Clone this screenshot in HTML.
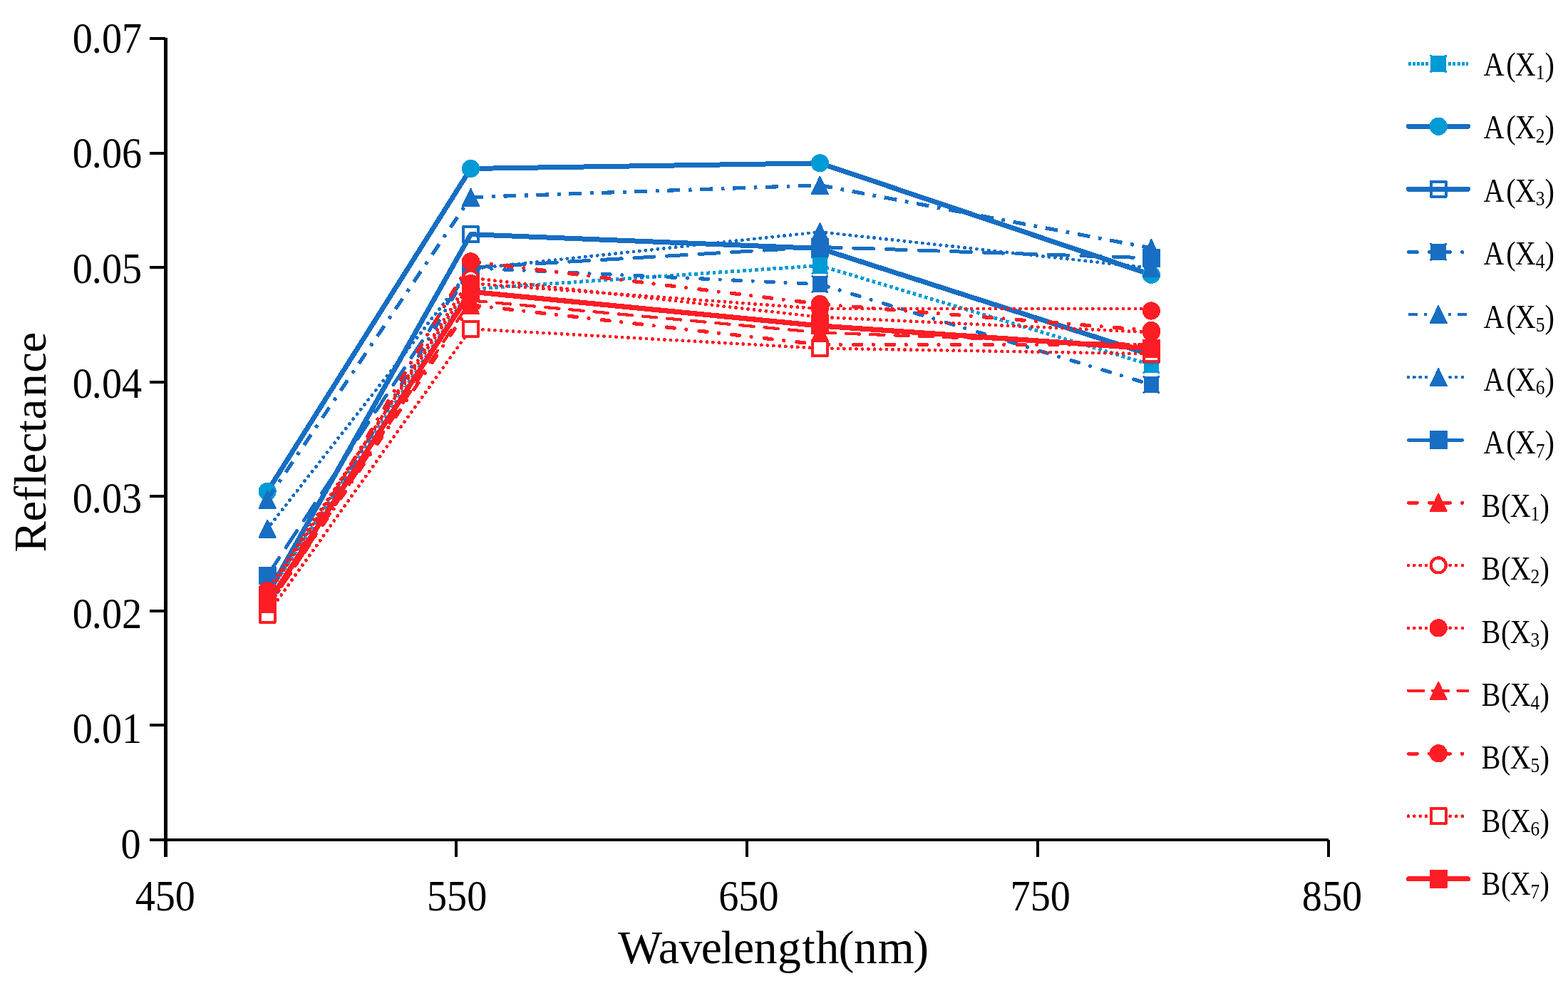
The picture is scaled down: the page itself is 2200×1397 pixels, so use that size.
<!DOCTYPE html>
<html lang="en">
<head>
<meta charset="utf-8">
<title>Reflectance versus wavelength</title>
<style>
html, body { margin: 0; padding: 0; background: #ffffff; }
body { width: 2200px; height: 1397px; overflow: hidden; }
svg { display: block; }
svg text { font-family: "Liberation Serif", "DejaVu Serif", serif; fill: #000; }
</style>
</head>
<body>
<svg width="2200" height="1397" viewBox="0 0 2200 1397">
<rect width="2200" height="1397" fill="#ffffff"/>
<g id="series" shape-rendering="crispEdges">
<g fill="none" stroke="#009AD4" stroke-width="5" stroke-linecap="butt" stroke-dasharray="4.6 3.9">
<line x1="375.1" y1="834" x2="660.5" y2="405.5"/>
<line x1="660.5" y1="405.5" x2="1150.4" y2="372.5"/>
<line x1="1150.4" y1="372.5" x2="1615.3" y2="511.8"/>
</g>
<rect x="364.3" y="822.6" width="21.6" height="22.8" fill="#009AD4"/><circle cx="364.8" cy="823.1" r="1.7" fill="#009AD4"/><circle cx="385.4" cy="823.1" r="1.7" fill="#009AD4"/><circle cx="385.4" cy="844.9" r="1.7" fill="#009AD4"/><circle cx="364.8" cy="844.9" r="1.7" fill="#009AD4"/>
<rect x="649.7" y="394.1" width="21.6" height="22.8" fill="#009AD4"/><circle cx="650.2" cy="394.6" r="1.7" fill="#009AD4"/><circle cx="670.8" cy="394.6" r="1.7" fill="#009AD4"/><circle cx="670.8" cy="416.4" r="1.7" fill="#009AD4"/><circle cx="650.2" cy="416.4" r="1.7" fill="#009AD4"/>
<rect x="1139.6" y="361.1" width="21.6" height="22.8" fill="#009AD4"/><circle cx="1140.1" cy="361.6" r="1.7" fill="#009AD4"/><circle cx="1160.7" cy="361.6" r="1.7" fill="#009AD4"/><circle cx="1160.7" cy="383.4" r="1.7" fill="#009AD4"/><circle cx="1140.1" cy="383.4" r="1.7" fill="#009AD4"/>
<rect x="1604.5" y="500.4" width="21.6" height="22.8" fill="#009AD4"/><circle cx="1605" cy="500.9" r="1.7" fill="#009AD4"/><circle cx="1625.6" cy="500.9" r="1.7" fill="#009AD4"/><circle cx="1625.6" cy="522.7" r="1.7" fill="#009AD4"/><circle cx="1605" cy="522.7" r="1.7" fill="#009AD4"/>
<polyline points="375.1,689.4 660.5,236.5 1150.4,228.8 1615.3,385.3" fill="none" stroke="#176EC3" stroke-width="7" stroke-linecap="round" stroke-linejoin="round"/>
<circle cx="375.1" cy="689.4" r="12.6" fill="#009AD4"/>
<circle cx="660.5" cy="236.5" r="12.6" fill="#009AD4"/>
<circle cx="1150.4" cy="228.8" r="12.6" fill="#009AD4"/>
<circle cx="1615.3" cy="385.3" r="12.6" fill="#009AD4"/>
<polyline points="375.1,834 660.5,328.7 1150.4,348.5 1615.3,497.8" fill="none" stroke="#176EC3" stroke-width="7" stroke-linecap="round" stroke-linejoin="round"/>
<rect x="364.65" y="823.35" width="20.9" height="21.3" fill="none" stroke="#176EC3" stroke-width="4" stroke-linejoin="round"/>
<rect x="650.05" y="318.05" width="20.9" height="21.3" fill="none" stroke="#176EC3" stroke-width="4" stroke-linejoin="round"/>
<rect x="1139.95" y="337.85" width="20.9" height="21.3" fill="none" stroke="#176EC3" stroke-width="4" stroke-linejoin="round"/>
<rect x="1604.85" y="487.15" width="20.9" height="21.3" fill="none" stroke="#176EC3" stroke-width="4" stroke-linejoin="round"/>
<g fill="none" stroke="#176EC3" stroke-width="5.2" stroke-linecap="round" stroke-dasharray="11 16.6 0.01 18.29" stroke-dashoffset="-1.3">
<line x1="375.1" y1="855" x2="660.5" y2="375.8"/>
<line x1="660.5" y1="375.8" x2="1150.4" y2="398.7"/>
<line x1="1150.4" y1="398.7" x2="1615.3" y2="539.5"/>
</g>
<rect x="364.3" y="843.6" width="21.6" height="22.8" fill="#176EC3"/><circle cx="364.8" cy="844.1" r="1.7" fill="#176EC3"/><circle cx="385.4" cy="844.1" r="1.7" fill="#176EC3"/><circle cx="385.4" cy="865.9" r="1.7" fill="#176EC3"/><circle cx="364.8" cy="865.9" r="1.7" fill="#176EC3"/>
<rect x="649.7" y="364.4" width="21.6" height="22.8" fill="#176EC3"/><circle cx="650.2" cy="364.9" r="1.7" fill="#176EC3"/><circle cx="670.8" cy="364.9" r="1.7" fill="#176EC3"/><circle cx="670.8" cy="386.7" r="1.7" fill="#176EC3"/><circle cx="650.2" cy="386.7" r="1.7" fill="#176EC3"/>
<rect x="1139.6" y="387.3" width="21.6" height="22.8" fill="#176EC3"/><circle cx="1140.1" cy="387.8" r="1.7" fill="#176EC3"/><circle cx="1160.7" cy="387.8" r="1.7" fill="#176EC3"/><circle cx="1160.7" cy="409.6" r="1.7" fill="#176EC3"/><circle cx="1140.1" cy="409.6" r="1.7" fill="#176EC3"/>
<rect x="1604.5" y="528.1" width="21.6" height="22.8" fill="#176EC3"/><circle cx="1605" cy="528.6" r="1.7" fill="#176EC3"/><circle cx="1625.6" cy="528.6" r="1.7" fill="#176EC3"/><circle cx="1625.6" cy="550.4" r="1.7" fill="#176EC3"/><circle cx="1605" cy="550.4" r="1.7" fill="#176EC3"/>
<g fill="none" stroke="#176EC3" stroke-width="5.2" stroke-linecap="butt" stroke-dasharray="17.7 11.8 4.7 11.8">
<line x1="375.1" y1="700.7" x2="660.5" y2="276.7"/>
<line x1="660.5" y1="276.7" x2="1150.4" y2="259.8"/>
<line x1="1150.4" y1="259.8" x2="1615.3" y2="348"/>
</g>
<polygon points="375.1,688.7 386.6,712.7 363.6,712.7" fill="#176EC3" stroke="#176EC3" stroke-width="2" stroke-linejoin="round"/>
<polygon points="660.5,264.7 672,288.7 649,288.7" fill="#176EC3" stroke="#176EC3" stroke-width="2" stroke-linejoin="round"/>
<polygon points="1150.4,247.8 1161.9,271.8 1138.9,271.8" fill="#176EC3" stroke="#176EC3" stroke-width="2" stroke-linejoin="round"/>
<polygon points="1615.3,336 1626.8,360 1603.8,360" fill="#176EC3" stroke="#176EC3" stroke-width="2" stroke-linejoin="round"/>
<g fill="none" stroke="#176EC3" stroke-width="4.9" stroke-linecap="round" stroke-dasharray="0.01 8.5">
<line x1="375.1" y1="741.7" x2="660.5" y2="377.2"/>
<line x1="660.5" y1="377.2" x2="1150.4" y2="325.3"/>
<line x1="1150.4" y1="325.3" x2="1615.3" y2="376"/>
</g>
<polygon points="375.1,729.7 386.6,753.7 363.6,753.7" fill="#176EC3" stroke="#176EC3" stroke-width="2" stroke-linejoin="round"/>
<polygon points="660.5,365.2 672,389.2 649,389.2" fill="#176EC3" stroke="#176EC3" stroke-width="2" stroke-linejoin="round"/>
<polygon points="1150.4,313.3 1161.9,337.3 1138.9,337.3" fill="#176EC3" stroke="#176EC3" stroke-width="2" stroke-linejoin="round"/>
<polygon points="1615.3,364 1626.8,388 1603.8,388" fill="#176EC3" stroke="#176EC3" stroke-width="2" stroke-linejoin="round"/>
<g fill="none" stroke="#176EC3" stroke-width="5" stroke-linecap="round" stroke-dasharray="27.9 17.7" stroke-dashoffset="-1.8">
<line x1="375.1" y1="807.5" x2="660.5" y2="375.2"/>
<line x1="660.5" y1="375.2" x2="1150.4" y2="346.5"/>
<line x1="1150.4" y1="346.5" x2="1615.3" y2="362"/>
</g>
<rect x="363.1" y="795.1" width="24" height="24.8" fill="#176EC3" stroke="#176EC3" stroke-width="1" stroke-linejoin="round"/>
<rect x="648.5" y="362.8" width="24" height="24.8" fill="#176EC3" stroke="#176EC3" stroke-width="1" stroke-linejoin="round"/>
<rect x="1138.4" y="334.1" width="24" height="24.8" fill="#176EC3" stroke="#176EC3" stroke-width="1" stroke-linejoin="round"/>
<rect x="1603.3" y="349.6" width="24" height="24.8" fill="#176EC3" stroke="#176EC3" stroke-width="1" stroke-linejoin="round"/>
<g fill="none" stroke="#FF1D25" stroke-width="5.2" stroke-linecap="round" stroke-dasharray="11 16.6 0.01 18.29" stroke-dashoffset="-1.3">
<line x1="375.1" y1="852" x2="660.5" y2="427.8"/>
<line x1="660.5" y1="427.8" x2="1150.4" y2="483.3"/>
<line x1="1150.4" y1="483.3" x2="1615.3" y2="483.5"/>
</g>
<polygon points="375.1,840 386.6,864 363.6,864" fill="#FF1D25" stroke="#FF1D25" stroke-width="2" stroke-linejoin="round"/>
<polygon points="660.5,415.8 672,439.8 649,439.8" fill="#FF1D25" stroke="#FF1D25" stroke-width="2" stroke-linejoin="round"/>
<polygon points="1150.4,471.3 1161.9,495.3 1138.9,495.3" fill="#FF1D25" stroke="#FF1D25" stroke-width="2" stroke-linejoin="round"/>
<polygon points="1615.3,471.5 1626.8,495.5 1603.8,495.5" fill="#FF1D25" stroke="#FF1D25" stroke-width="2" stroke-linejoin="round"/>
<g fill="none" stroke="#FF1D25" stroke-width="4.9" stroke-linecap="round" stroke-dasharray="0.01 8.5">
<line x1="375.1" y1="835.4" x2="660.5" y2="389.8"/>
<line x1="660.5" y1="389.8" x2="1150.4" y2="444.8"/>
<line x1="1150.4" y1="444.8" x2="1615.3" y2="466"/>
</g>
<circle cx="375.1" cy="835.4" r="10.5" fill="#fff" stroke="#FF1D25" stroke-width="4.2"/>
<circle cx="660.5" cy="389.8" r="10.5" fill="#fff" stroke="#FF1D25" stroke-width="4.2"/>
<circle cx="1150.4" cy="444.8" r="10.5" fill="#fff" stroke="#FF1D25" stroke-width="4.2"/>
<circle cx="1615.3" cy="466" r="10.5" fill="#fff" stroke="#FF1D25" stroke-width="4.2"/>
<g fill="none" stroke="#FF1D25" stroke-width="4.9" stroke-linecap="round" stroke-dasharray="0.01 8.5">
<line x1="375.1" y1="828.3" x2="660.5" y2="397.5"/>
<line x1="660.5" y1="397.5" x2="1150.4" y2="433"/>
<line x1="1150.4" y1="433" x2="1615.3" y2="433"/>
</g>
<circle cx="375.1" cy="828.3" r="12.6" fill="#FF1D25"/>
<circle cx="660.5" cy="397.5" r="12.6" fill="#FF1D25"/>
<circle cx="1150.4" cy="433" r="12.6" fill="#FF1D25"/>
<circle cx="1615.3" cy="436" r="12.6" fill="#FF1D25"/>
<g fill="none" stroke="#FF1D25" stroke-width="4.2" stroke-linecap="round" stroke-dasharray="19.4 14.9" stroke-dashoffset="-2.2">
<line x1="375.1" y1="853" x2="660.5" y2="421.4"/>
<line x1="660.5" y1="421.4" x2="1150.4" y2="466.4"/>
<line x1="1150.4" y1="466.4" x2="1615.3" y2="484"/>
</g>
<polygon points="375.1,841 386.6,865 363.6,865" fill="#FF1D25" stroke="#FF1D25" stroke-width="2" stroke-linejoin="round"/>
<polygon points="660.5,409.4 672,433.4 649,433.4" fill="#FF1D25" stroke="#FF1D25" stroke-width="2" stroke-linejoin="round"/>
<polygon points="1150.4,454.4 1161.9,478.4 1138.9,478.4" fill="#FF1D25" stroke="#FF1D25" stroke-width="2" stroke-linejoin="round"/>
<polygon points="1615.3,472 1626.8,496 1603.8,496" fill="#FF1D25" stroke="#FF1D25" stroke-width="2" stroke-linejoin="round"/>
<g fill="none" stroke="#FF1D25" stroke-width="5.2" stroke-linecap="round" stroke-dasharray="11 16.6 0.01 18.29" stroke-dashoffset="-1.3">
<line x1="375.1" y1="850" x2="660.5" y2="366.8"/>
<line x1="660.5" y1="366.8" x2="1150.4" y2="426.4"/>
<line x1="1150.4" y1="426.4" x2="1615.3" y2="463.5"/>
</g>
<circle cx="375.1" cy="850" r="12.6" fill="#FF1D25"/>
<circle cx="660.5" cy="366.8" r="12.6" fill="#FF1D25"/>
<circle cx="1150.4" cy="426.4" r="12.6" fill="#FF1D25"/>
<circle cx="1615.3" cy="463.5" r="12.6" fill="#FF1D25"/>
<g fill="none" stroke="#FF1D25" stroke-width="4.9" stroke-linecap="round" stroke-dasharray="0.01 8.5">
<line x1="375.1" y1="862.2" x2="660.5" y2="461.3"/>
<line x1="660.5" y1="461.3" x2="1150.4" y2="488.5"/>
<line x1="1150.4" y1="488.5" x2="1615.3" y2="496.3"/>
</g>
<rect x="364.65" y="851.55" width="20.9" height="21.3" fill="#fff" stroke="#FF1D25" stroke-width="4" stroke-linejoin="round"/>
<rect x="650.05" y="450.65" width="20.9" height="21.3" fill="#fff" stroke="#FF1D25" stroke-width="4" stroke-linejoin="round"/>
<rect x="1139.95" y="477.85" width="20.9" height="21.3" fill="#fff" stroke="#FF1D25" stroke-width="4" stroke-linejoin="round"/>
<rect x="1604.85" y="485.65" width="20.9" height="21.3" fill="#fff" stroke="#FF1D25" stroke-width="4" stroke-linejoin="round"/>
<polyline points="375.1,847 660.5,409.1 1150.4,457 1615.3,489" fill="none" stroke="#FF1D25" stroke-width="7.2" stroke-linecap="round" stroke-linejoin="round"/>
<rect x="363.1" y="834.6" width="24" height="24.8" fill="#FF1D25" stroke="#FF1D25" stroke-width="1" stroke-linejoin="round"/>
<rect x="648.5" y="396.7" width="24" height="24.8" fill="#FF1D25" stroke="#FF1D25" stroke-width="1" stroke-linejoin="round"/>
<rect x="1138.4" y="443.6" width="24" height="24.8" fill="#FF1D25" stroke="#FF1D25" stroke-width="1" stroke-linejoin="round"/>
<rect x="1603.3" y="476.6" width="24" height="24.8" fill="#FF1D25" stroke="#FF1D25" stroke-width="1" stroke-linejoin="round"/>
</g>
<g id="axes" shape-rendering="crispEdges">
<rect x="230.1" y="53" width="4.9" height="1149" fill="#000"/>
<rect x="210" y="1176" width="1654" height="4" fill="#000"/>
<rect x="210" y="1015.43" width="22" height="4" fill="#000"/>
<rect x="210" y="854.86" width="22" height="4" fill="#000"/>
<rect x="210" y="694.29" width="22" height="4" fill="#000"/>
<rect x="210" y="533.72" width="22" height="4" fill="#000"/>
<rect x="210" y="373.14" width="22" height="4" fill="#000"/>
<rect x="210" y="212.57" width="22" height="4" fill="#000"/>
<rect x="210" y="52" width="22" height="4" fill="#000"/>
<rect x="638.4" y="1178" width="4" height="24" fill="#000"/>
<rect x="1046.3" y="1178" width="4" height="24" fill="#000"/>
<rect x="1454.2" y="1178" width="4" height="24" fill="#000"/>
<rect x="1862.1" y="1178" width="4" height="24" fill="#000"/>
</g>
<g id="labels">
<text transform="translate(0 1203.8) scale(0.929 1.0)" x="182.56" font-size="60.5">0</text>
<text transform="translate(0 1042.36) scale(0.929 1.0)" x="109.58 138.54 153.82 184.07" font-size="60.5">0.01</text>
<text transform="translate(0 880.92) scale(0.929 1.0)" x="109.58 138.54 153.82 184.07" font-size="60.5">0.02</text>
<text transform="translate(0 719.48) scale(0.929 1.0)" x="109.58 138.54 153.82 184.07" font-size="60.5">0.03</text>
<text transform="translate(0 558.04) scale(0.929 1.0)" x="109.58 138.54 153.82 184.07" font-size="60.5">0.04</text>
<text transform="translate(0 396.6) scale(0.929 1.0)" x="109.58 138.54 153.82 184.07" font-size="60.5">0.05</text>
<text transform="translate(0 235.16) scale(0.929 1.0)" x="109.58 138.54 153.82 184.07" font-size="60.5">0.06</text>
<text transform="translate(0 73.72) scale(0.929 1.0)" x="109.58 138.54 153.82 184.07" font-size="60.5">0.07</text>
<text transform="translate(231.8 1276.8) scale(0.929 1.0)" text-anchor="middle" font-size="60.5">450</text>
<text transform="translate(641.1 1276.8) scale(0.929 1.0)" text-anchor="middle" font-size="60.5">550</text>
<text transform="translate(1050.4 1276.8) scale(0.929 1.0)" text-anchor="middle" font-size="60.5">650</text>
<text transform="translate(1459.7 1276.8) scale(0.929 1.0)" text-anchor="middle" font-size="60.5">750</text>
<text transform="translate(1869 1276.8) scale(0.929 1.0)" text-anchor="middle" font-size="60.5">850</text>
<text transform="translate(0 1350.6) scale(1.0 1.0)" x="867.15 923.83 952.53 983.84 1011.52 1029.12 1057.87 1090.91 1125.58 1144.44 1176.42 1197.91 1231.69 1281.37" font-size="65.6">Wavelength(nm)</text>
<text transform="translate(64.3 772) rotate(-90) scale(1.0 0.963)" x="-2.42 40.58 68.38 90.47 107.48 136.69 165.04 183.43 215.35 249.34 277.63" font-size="65.0">Reflectance</text>
</g>
<g id="legend" shape-rendering="crispEdges">
<line x1="1975.9" y1="89.55" x2="2006" y2="89.55" stroke="#009AD4" stroke-width="5" stroke-linecap="butt" stroke-dasharray="4.1 1.9"/>
<line x1="2032" y1="89.55" x2="2060.1" y2="89.55" stroke="#009AD4" stroke-width="5" stroke-linecap="butt" stroke-dasharray="4 2.25"/>
<rect x="2007.4" y="77.9" width="21.6" height="22.8" fill="#009AD4"/><circle cx="2007.9" cy="78.4" r="1.7" fill="#009AD4"/><circle cx="2028.5" cy="78.4" r="1.7" fill="#009AD4"/><circle cx="2028.5" cy="100.2" r="1.7" fill="#009AD4"/><circle cx="2007.9" cy="100.2" r="1.7" fill="#009AD4"/>
<text transform="translate(0 106.1) scale(0.883 1.0)" x="2357.2 2393.16 2407.51" font-size="45.6">A(X<tspan font-size="28.8" x="2440.14" dy="5.1">1</tspan><tspan x="2454.74" dy="-5.1">)</tspan></text>
<line x1="1976.7" y1="177.25" x2="2059.3" y2="177.25" stroke="#176EC3" stroke-width="7.4" stroke-linecap="round"/>
<circle cx="2018.2" cy="177.25" r="12.6" fill="#009AD4"/>
<text transform="translate(0 194.49) scale(0.883 1.0)" x="2357.2 2393.16 2407.51" font-size="45.6">A(X<tspan font-size="28.8" x="2440.14" dy="5.1">2</tspan><tspan x="2454.74" dy="-5.1">)</tspan></text>
<line x1="1976.7" y1="265.2" x2="2059.3" y2="265.2" stroke="#176EC3" stroke-width="7.4" stroke-linecap="round"/>
<rect x="2007.75" y="254.55" width="20.9" height="21.3" fill="none" stroke="#176EC3" stroke-width="4" stroke-linejoin="round"/>
<text transform="translate(0 282.88) scale(0.883 1.0)" x="2357.2 2393.16 2407.51" font-size="45.6">A(X<tspan font-size="28.8" x="2440.14" dy="5.1">3</tspan><tspan x="2454.74" dy="-5.1">)</tspan></text>
<line x1="1976.5" y1="353.55" x2="1988.4" y2="353.55" stroke="#176EC3" stroke-width="4.9" stroke-linecap="round"/>
<line x1="2005.4" y1="353.55" x2="2034.6" y2="353.55" stroke="#176EC3" stroke-width="4.9" stroke-linecap="round"/>
<circle cx="2051.6" cy="353.55" r="2.6" fill="#176EC3"/>
<rect x="2007.4" y="341.75" width="21.6" height="22.8" fill="#176EC3"/><circle cx="2007.9" cy="342.25" r="1.7" fill="#176EC3"/><circle cx="2028.5" cy="342.25" r="1.7" fill="#176EC3"/><circle cx="2028.5" cy="364.05" r="1.7" fill="#176EC3"/><circle cx="2007.9" cy="364.05" r="1.7" fill="#176EC3"/>
<text transform="translate(0 371.27) scale(0.883 1.0)" x="2357.2 2393.16 2407.51" font-size="45.6">A(X<tspan font-size="28.8" x="2440.14" dy="5.1">4</tspan><tspan x="2454.74" dy="-5.1">)</tspan></text>
<line x1="1975.8" y1="441.1" x2="1988.7" y2="441.1" stroke="#176EC3" stroke-width="4.4" stroke-linecap="butt"/>
<line x1="1997.8" y1="441.1" x2="2001.8" y2="441.1" stroke="#176EC3" stroke-width="4.4" stroke-linecap="butt"/>
<line x1="2032.3" y1="441.1" x2="2036.3" y2="441.1" stroke="#176EC3" stroke-width="4.4" stroke-linecap="butt"/>
<line x1="2045.4" y1="441.1" x2="2057.8" y2="441.1" stroke="#176EC3" stroke-width="4.4" stroke-linecap="butt"/>
<polygon points="2018.2,429.1 2029.7,453.1 2006.7,453.1" fill="#176EC3" stroke="#176EC3" stroke-width="2" stroke-linejoin="round"/>
<text transform="translate(0 459.66) scale(0.883 1.0)" x="2357.2 2393.16 2407.51" font-size="45.6">A(X<tspan font-size="28.8" x="2440.14" dy="5.1">5</tspan><tspan x="2454.74" dy="-5.1">)</tspan></text>
<line x1="1975.9" y1="529.05" x2="1975.91" y2="529.05" stroke="#176EC3" stroke-width="4.8" stroke-linecap="round"/>
<line x1="1984.3" y1="529.05" x2="1984.31" y2="529.05" stroke="#176EC3" stroke-width="4.8" stroke-linecap="round"/>
<line x1="1992.7" y1="529.05" x2="1992.71" y2="529.05" stroke="#176EC3" stroke-width="4.8" stroke-linecap="round"/>
<line x1="2001.1" y1="529.05" x2="2001.11" y2="529.05" stroke="#176EC3" stroke-width="4.8" stroke-linecap="round"/>
<line x1="2034.6" y1="529.05" x2="2034.61" y2="529.05" stroke="#176EC3" stroke-width="4.8" stroke-linecap="round"/>
<line x1="2043.2" y1="529.05" x2="2043.21" y2="529.05" stroke="#176EC3" stroke-width="4.8" stroke-linecap="round"/>
<line x1="2051.8" y1="529.05" x2="2051.81" y2="529.05" stroke="#176EC3" stroke-width="4.8" stroke-linecap="round"/>
<polygon points="2018.2,517.05 2029.7,541.05 2006.7,541.05" fill="#176EC3" stroke="#176EC3" stroke-width="2" stroke-linejoin="round"/>
<text transform="translate(0 548.05) scale(0.883 1.0)" x="2357.2 2393.16 2407.51" font-size="45.6">A(X<tspan font-size="28.8" x="2440.14" dy="5.1">6</tspan><tspan x="2454.74" dy="-5.1">)</tspan></text>
<line x1="1976.4" y1="617.3" x2="2051.5" y2="617.3" stroke="#176EC3" stroke-width="4.9" stroke-linecap="round"/>
<rect x="2006.2" y="604.6" width="24" height="24.8" fill="#176EC3" stroke="#176EC3" stroke-width="1" stroke-linejoin="round"/>
<text transform="translate(0 636.44) scale(0.883 1.0)" x="2357.2 2393.16 2407.51" font-size="45.6">A(X<tspan font-size="28.8" x="2440.14" dy="5.1">7</tspan><tspan x="2454.74" dy="-5.1">)</tspan></text>
<line x1="1976.5" y1="705.35" x2="1988.4" y2="705.35" stroke="#FF1D25" stroke-width="4.9" stroke-linecap="round"/>
<line x1="2005.4" y1="705.35" x2="2034.6" y2="705.35" stroke="#FF1D25" stroke-width="4.9" stroke-linecap="round"/>
<circle cx="2051.6" cy="705.35" r="2.6" fill="#FF1D25"/>
<polygon points="2018.2,692.95 2029.7,716.95 2006.7,716.95" fill="#FF1D25" stroke="#FF1D25" stroke-width="2" stroke-linejoin="round"/>
<text transform="translate(0 724.83) scale(0.883 1.0)" x="2353.82 2385.12 2399.58" font-size="45.6">B(X<tspan font-size="28.8" x="2432.1" dy="5.1">1</tspan><tspan x="2446.81" dy="-5.1">)</tspan></text>
<line x1="1975.9" y1="792.9" x2="1975.91" y2="792.9" stroke="#FF1D25" stroke-width="4.8" stroke-linecap="round"/>
<line x1="1984.3" y1="792.9" x2="1984.31" y2="792.9" stroke="#FF1D25" stroke-width="4.8" stroke-linecap="round"/>
<line x1="1992.7" y1="792.9" x2="1992.71" y2="792.9" stroke="#FF1D25" stroke-width="4.8" stroke-linecap="round"/>
<line x1="2001.1" y1="792.9" x2="2001.11" y2="792.9" stroke="#FF1D25" stroke-width="4.8" stroke-linecap="round"/>
<line x1="2034.6" y1="792.9" x2="2034.61" y2="792.9" stroke="#FF1D25" stroke-width="4.8" stroke-linecap="round"/>
<line x1="2043.2" y1="792.9" x2="2043.21" y2="792.9" stroke="#FF1D25" stroke-width="4.8" stroke-linecap="round"/>
<line x1="2051.8" y1="792.9" x2="2051.81" y2="792.9" stroke="#FF1D25" stroke-width="4.8" stroke-linecap="round"/>
<circle cx="2018.2" cy="792.9" r="10.5" fill="#fff" stroke="#FF1D25" stroke-width="4.2"/>
<text transform="translate(0 813.22) scale(0.883 1.0)" x="2353.82 2385.12 2399.58" font-size="45.6">B(X<tspan font-size="28.8" x="2432.1" dy="5.1">2</tspan><tspan x="2446.81" dy="-5.1">)</tspan></text>
<line x1="1975.9" y1="880.85" x2="1975.91" y2="880.85" stroke="#FF1D25" stroke-width="4.8" stroke-linecap="round"/>
<line x1="1984.3" y1="880.85" x2="1984.31" y2="880.85" stroke="#FF1D25" stroke-width="4.8" stroke-linecap="round"/>
<line x1="1992.7" y1="880.85" x2="1992.71" y2="880.85" stroke="#FF1D25" stroke-width="4.8" stroke-linecap="round"/>
<line x1="2001.1" y1="880.85" x2="2001.11" y2="880.85" stroke="#FF1D25" stroke-width="4.8" stroke-linecap="round"/>
<line x1="2034.6" y1="880.85" x2="2034.61" y2="880.85" stroke="#FF1D25" stroke-width="4.8" stroke-linecap="round"/>
<line x1="2043.2" y1="880.85" x2="2043.21" y2="880.85" stroke="#FF1D25" stroke-width="4.8" stroke-linecap="round"/>
<line x1="2051.8" y1="880.85" x2="2051.81" y2="880.85" stroke="#FF1D25" stroke-width="4.8" stroke-linecap="round"/>
<circle cx="2018.2" cy="880.85" r="12.6" fill="#FF1D25"/>
<text transform="translate(0 901.61) scale(0.883 1.0)" x="2353.82 2385.12 2399.58" font-size="45.6">B(X<tspan font-size="28.8" x="2432.1" dy="5.1">3</tspan><tspan x="2446.81" dy="-5.1">)</tspan></text>
<line x1="1976.2" y1="968.8" x2="1997.3" y2="968.8" stroke="#FF1D25" stroke-width="4.4" stroke-linecap="round"/>
<line x1="2010" y1="968.8" x2="2032.3" y2="968.8" stroke="#FF1D25" stroke-width="4.4" stroke-linecap="round"/>
<line x1="2045.5" y1="968.8" x2="2059.4" y2="968.8" stroke="#FF1D25" stroke-width="4.4" stroke-linecap="round"/>
<polygon points="2018.2,956.8 2029.7,980.8 2006.7,980.8" fill="#FF1D25" stroke="#FF1D25" stroke-width="2" stroke-linejoin="round"/>
<text transform="translate(0 990) scale(0.883 1.0)" x="2353.82 2385.12 2399.58" font-size="45.6">B(X<tspan font-size="28.8" x="2432.1" dy="5.1">4</tspan><tspan x="2446.81" dy="-5.1">)</tspan></text>
<line x1="1976.5" y1="1057.15" x2="1988.4" y2="1057.15" stroke="#FF1D25" stroke-width="4.9" stroke-linecap="round"/>
<line x1="2005.4" y1="1057.15" x2="2034.6" y2="1057.15" stroke="#FF1D25" stroke-width="4.9" stroke-linecap="round"/>
<circle cx="2051.6" cy="1057.15" r="2.6" fill="#FF1D25"/>
<circle cx="2018.2" cy="1056.75" r="12.6" fill="#FF1D25"/>
<text transform="translate(0 1078.39) scale(0.883 1.0)" x="2353.82 2385.12 2399.58" font-size="45.6">B(X<tspan font-size="28.8" x="2432.1" dy="5.1">5</tspan><tspan x="2446.81" dy="-5.1">)</tspan></text>
<line x1="1975.9" y1="1144.7" x2="1975.91" y2="1144.7" stroke="#FF1D25" stroke-width="4.8" stroke-linecap="round"/>
<line x1="1984.3" y1="1144.7" x2="1984.31" y2="1144.7" stroke="#FF1D25" stroke-width="4.8" stroke-linecap="round"/>
<line x1="1992.7" y1="1144.7" x2="1992.71" y2="1144.7" stroke="#FF1D25" stroke-width="4.8" stroke-linecap="round"/>
<line x1="2001.1" y1="1144.7" x2="2001.11" y2="1144.7" stroke="#FF1D25" stroke-width="4.8" stroke-linecap="round"/>
<line x1="2034.6" y1="1144.7" x2="2034.61" y2="1144.7" stroke="#FF1D25" stroke-width="4.8" stroke-linecap="round"/>
<line x1="2043.2" y1="1144.7" x2="2043.21" y2="1144.7" stroke="#FF1D25" stroke-width="4.8" stroke-linecap="round"/>
<line x1="2051.8" y1="1144.7" x2="2051.81" y2="1144.7" stroke="#FF1D25" stroke-width="4.8" stroke-linecap="round"/>
<rect x="2007.75" y="1134.05" width="20.9" height="21.3" fill="#fff" stroke="#FF1D25" stroke-width="4" stroke-linejoin="round"/>
<text transform="translate(0 1166.78) scale(0.883 1.0)" x="2353.82 2385.12 2399.58" font-size="45.6">B(X<tspan font-size="28.8" x="2432.1" dy="5.1">6</tspan><tspan x="2446.81" dy="-5.1">)</tspan></text>
<line x1="1976.7" y1="1232.65" x2="2059.3" y2="1232.65" stroke="#FF1D25" stroke-width="7.4" stroke-linecap="round"/>
<rect x="2006.2" y="1220.25" width="24" height="24.8" fill="#FF1D25" stroke="#FF1D25" stroke-width="1" stroke-linejoin="round"/>
<text transform="translate(0 1255.17) scale(0.883 1.0)" x="2353.82 2385.12 2399.58" font-size="45.6">B(X<tspan font-size="28.8" x="2432.1" dy="5.1">7</tspan><tspan x="2446.81" dy="-5.1">)</tspan></text>
</g>
</svg>
</body>
</html>
